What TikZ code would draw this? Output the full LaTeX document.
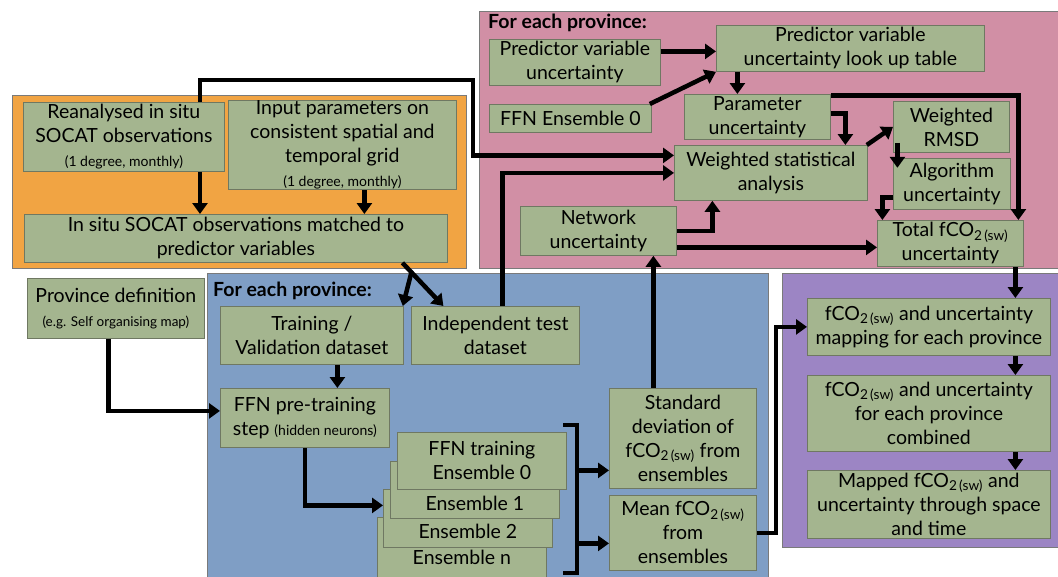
\documentclass[tikz,border=0pt]{standalone}
\usepackage{fontspec}
\setmainfont{Lato}
\usetikzlibrary{arrows.meta,calc}
\definecolor{boxgreen}{HTML}{A4B58F}
\definecolor{boxedge}{HTML}{6F7862}
\definecolor{regionedge}{HTML}{7A7A7A}
\definecolor{orangefill}{HTML}{F1A443}
\definecolor{pinkfill}{HTML}{D18FA5}
\definecolor{bluefill}{HTML}{7F9EC5}
\definecolor{purplefill}{HTML}{9C85C4}
\newcommand{\fcosw}{fCO\textsubscript{2\,(sw)}}
\newcommand{\minortext}[1]{{\fontsize{14}{16}\selectfont #1}}
\begin{document}
\begin{tikzpicture}[x=1pt,y=-1pt,
	box/.style={draw=boxedge, fill=boxgreen, line width=0.8pt, align=center, inner sep=0pt, anchor=north west, font=\fontsize{19.5}{24}\selectfont},
	region/.style={draw=regionedge, line width=0.8pt},
	link/.style={line width=4.5pt},
	flow/.style={line width=4.5pt, -{Triangle[length=11pt,width=15pt]}},
	heading/.style={font=\bfseries\fontsize{19.5}{22}\selectfont, anchor=west, inner sep=0pt}]
	\useasboundingbox (0,0) rectangle (1058,576);
	\fill[white] (0,0) rectangle (1058,576);
	
	% data preparation
	\draw[region, fill=orangefill] (12,95) rectangle (466,268);
	\node[box, minimum width=201pt, minimum height=69pt] (reana) at (23,102) {Reanalysed in situ\\SOCAT observations\\\minortext{(1 degree, monthly)}};
	\node[box, minimum width=228pt, minimum height=89pt] (inpar) at (228,100) {Input parameters on\\consistent spatial and\\temporal grid\\\minortext{(1 degree, monthly)}};
	\node[box, minimum width=423pt, minimum height=48pt] (matched) at (24,214) {In situ SOCAT observations matched to\\predictor variables};
	\node[box, minimum width=177pt, minimum height=60pt] (prov) at (27,278) {Province definition\\{\fontsize{13.5}{16}\selectfont (e.g. Self organising map)}};
	
	% uncertainty per province
	\draw[region, fill=pinkfill] (479,11) rectangle (1070,268);
	\node[heading] (pinkhead) at (488,23) {For each province:};
	\node[box, minimum width=171pt, minimum height=46pt] (pvu) at (489,39) {Predictor variable\\uncertainty};
	\node[box, minimum width=268pt, minimum height=46pt] (lut) at (716,25) {Predictor variable\\uncertainty look up table};
	\node[box, minimum width=162pt, minimum height=28pt] (ffn0) at (489,104) {FFN Ensemble 0};
	\node[box, minimum width=146pt, minimum height=45pt] (paru) at (684,94) {Parameter\\uncertainty};
	\node[box, minimum width=193pt, minimum height=55pt] (wsa) at (674,145) {Weighted statistical\\analysis};
	\node[box, minimum width=116pt, minimum height=51pt] (rmsd) at (893,101) {Weighted\\RMSD};
	\node[box, minimum width=117pt, minimum height=51pt] (algu) at (893,158) {Algorithm\\uncertainty};
	\node[box, minimum width=156pt, minimum height=49pt] (netu) at (520,206) {Network\\uncertainty};
	\node[box, minimum width=146pt, minimum height=46pt] (totu) at (877,220) {Total \fcosw\\uncertainty};
	
	% network training per province
	\draw[region, fill=bluefill] (207,273) rectangle (768,590);
	\node[heading] (bluehead) at (213,291) {For each province:};
	\node[box, minimum width=183pt, minimum height=58pt] (trval) at (220,306) {Training /\\Validation dataset};
	\node[box, minimum width=168pt, minimum height=58pt] (itd) at (411,306) {Independent test\\dataset};
	\node[box, minimum width=169pt, minimum height=59pt] (pre) at (220,388) {FFN pre-training\\step \minortext{(hidden neurons)}};
	\foreach \n/\x/\y/\h/\dy/\lab in {n/377/517/61/21pt/Ensemble n, 2/383/489/58/16pt/Ensemble 2, 1/390/461/57/15pt/Ensemble 1}
		\node[box, minimum width=169pt, minimum height=\h pt, label={[name=ens\n text, anchor=center, yshift=\dy, font=\fontsize{19.5}{24}\selectfont]south:\lab}] (ens\n) at (\x,\y) {};
	\node[box, minimum width=169pt, minimum height=57pt] (ens0) at (397,432) {FFN training\\Ensemble 0};
	\node[box, minimum width=147pt, minimum height=100pt] (std) at (609,388) {Standard\\deviation of\\\fcosw{} from\\ensembles};
	\node[box, minimum width=147pt, minimum height=75pt] (mean) at (609,495) {Mean \fcosw\\from\\ensembles};
	
	% mapping
	\draw[region, fill=purplefill] (782,273) rectangle (1070,547);
	\node[box, minimum width=243pt, minimum height=57pt] (map) at (807,298) {\fcosw{} and uncertainty\\mapping for each province};
	\node[box, minimum width=243pt, minimum height=76pt] (comb) at (807,375) {\fcosw{} and uncertainty\\for each province\\combined};
	\node[box, minimum width=243pt, minimum height=68pt] (mapped) at (807,470) {Mapped \fcosw{} and\\uncertainty through space\\and time};
	
	% connectors, left part
	\coordinate (c1) at (200,80);
	\coordinate (c2) at (473,80);
	\draw[flow] (reana.north -| c1) -- (c1) -- (c2) |- ([yshift=17.5pt]wsa.west);
	\draw[flow] (reana.south -| c1) -- (matched.north -| c1);
	\coordinate (ip) at ([xshift=22pt]inpar.south);
	\draw[flow] (ip) -- (ip |- matched.north);
	\coordinate (mt) at ([xshift=166.5pt]matched.south);
	\coordinate (it) at ([xshift=-52pt]itd.north);
	\coordinate (split) at ($(mt)!0.22!(it)$);
	\draw[flow] (mt) -- (it);
	\draw[flow] (split) -- ([xshift=-1pt]trval.north east);
	\draw[flow] ([xshift=-7.5pt]prov.south) |- ([yshift=7pt]pre.west);
	\coordinate (tv) at ([xshift=25.5pt]trval.south);
	\draw[flow] (tv) -- (tv |- pre.north);
	\draw[flow] (pre.south) |- ([yshift=13pt]ens2.west);
	
	% ensemble bracket
	\coordinate (brtop) at (577,425);
	\coordinate (brbot) at (577,573);
	\draw[link] (563,425) -- (brtop) -- (brbot) -- (563,573);
	\coordinate (sdin) at ([yshift=-32pt]std.west);
	\coordinate (mnin) at ([yshift=-10.5pt]mean.west);
	\draw[flow] (brtop |- sdin) -- (sdin);
	\draw[flow] (brtop |- mnin) -- (mnin);
	\coordinate (sdup) at ([xshift=-29.5pt]std.north);
	\draw[flow] (sdup) -- (sdup |- netu.south);
	\draw[flow] ([xshift=7pt]itd.north) |- (wsa.west);
	\draw[flow] (mean.east) -- ++(19,0) |- (map.west);
	
	% connectors, uncertainty
	\coordinate (pl) at ([yshift=11pt]pvu.east);
	\draw[flow] (pl) -- (pl -| lut.west);
	\draw[flow] ([xshift=-2pt]ffn0.north east) -- (lut.south west);
	\coordinate (lp) at ([xshift=-20pt]paru.north);
	\draw[flow] (lp |- lut.south) -- (lp);
	\draw[flow] ([yshift=3.5pt]paru.east) -| ([xshift=74.5pt]wsa.north);
	\draw[flow] ([yshift=-1.5pt]paru.north east) -| ([xshift=68pt]totu.north);
	\draw[flow] ([xshift=-1pt]wsa.north east) -- (rmsd.west);
	\coordinate (ra) at ([xshift=-54pt]rmsd.south);
	\draw[flow] ([yshift=10pt]ra) -- ([yshift=-15pt]ra);
	\draw[flow] ([yshift=-13.5pt]algu.west) -| ([xshift=-68pt]totu.north);
	\draw[flow] (netu.east) -| ([xshift=-58.5pt]wsa.south);
	\coordinate (nt) at ([yshift=-16.5pt]netu.east);
	\draw[flow] (nt) -- (nt -| totu.west);
	
	% connectors, mapping
	\coordinate (tm) at ([xshift=65pt]totu.south);
	\draw[flow] (tm) -- (tm |- map.north);
	\draw[flow] (map.south -| tm) -- (comb.north -| tm);
	\draw[flow] (comb.south -| tm) -- (mapped.north -| tm);
\end{tikzpicture}
\end{document}
